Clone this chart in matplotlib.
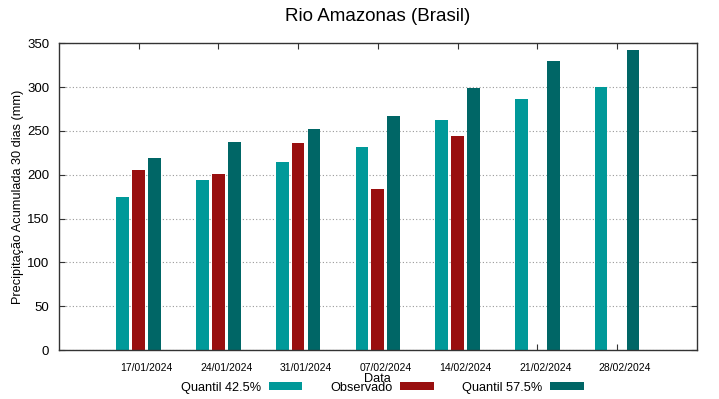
import numpy as np
import matplotlib as mpl
mpl.use('Agg')
import matplotlib.pyplot as plt

plt.rcParams['font.family'] = ['Liberation Sans', 'DejaVu Sans']

datas = ['17/01/2024', '24/01/2024', '31/01/2024', '07/02/2024',
         '14/02/2024', '21/02/2024', '28/02/2024']
quantil_425 = [175, 194, 214, 231, 262, 286, 300]
observado = [205, 201, 236, 184, 244, np.nan, np.nan]
quantil_575 = [219, 237, 252, 267, 299, 330, 342]

cor_q425 = '#009999'
cor_obs = '#990f0f'
cor_q575 = '#006666'

fig = plt.figure(figsize=(7.19, 3.99), dpi=100)
ax = fig.add_axes([0.082, 0.1228, 0.887, 0.769])

x = np.arange(1, len(datas) + 1)
w = 0.16
ax.bar(x - 0.2, quantil_425, width=w, color=cor_q425, label='Quantil 42.5%')
ax.bar(x, observado, width=w, color=cor_obs, label='Observado')
ax.bar(x + 0.2, quantil_575, width=w, color=cor_q575, label='Quantil 57.5%')

ax.set_xlim(0, 8)
ax.set_ylim(0, 350)
ax.set_yticks(range(0, 351, 50))
# ticks nos grupos, labels um pouco deslocados para a direita (como no gnuplot)
ax.set_xticks(x)
ax.set_xticklabels([])
ax.set_xticks(x + 0.1, minor=True)
ax.set_xticklabels(datas, minor=True, fontsize=7.5)
ax.tick_params(axis='x', which='minor', length=0, pad=9)

ax.tick_params(axis='both', which='major', direction='in', top=True, right=True,
               length=4, color='#333333')
ax.tick_params(axis='y', labelsize=9.5, pad=7)
for s in ax.spines.values():
    s.set_color('#333333')
    s.set_linewidth(1)

ax.yaxis.grid(True, linestyle=(0, (1, 2)), color='#999999', linewidth=0.8)
ax.set_axisbelow(True)

ax.set_title('Rio Amazonas (Brasil)', fontsize=13.5, pad=16)
ax.set_ylabel('Precipitação Acumulada 30 dias (mm)', fontsize=9.2, labelpad=2)
ax.set_xlabel('Data', fontsize=9.2, labelpad=0)

fig.legend(loc='center', bbox_to_anchor=(0.532, 0.028), ncol=3, frameon=False,
           markerfirst=False, fontsize=9.2, handlelength=2.65, handleheight=0.55,
           handletextpad=0.6, columnspacing=2.2, borderpad=0)

fig.savefig('out.png', dpi=100)
